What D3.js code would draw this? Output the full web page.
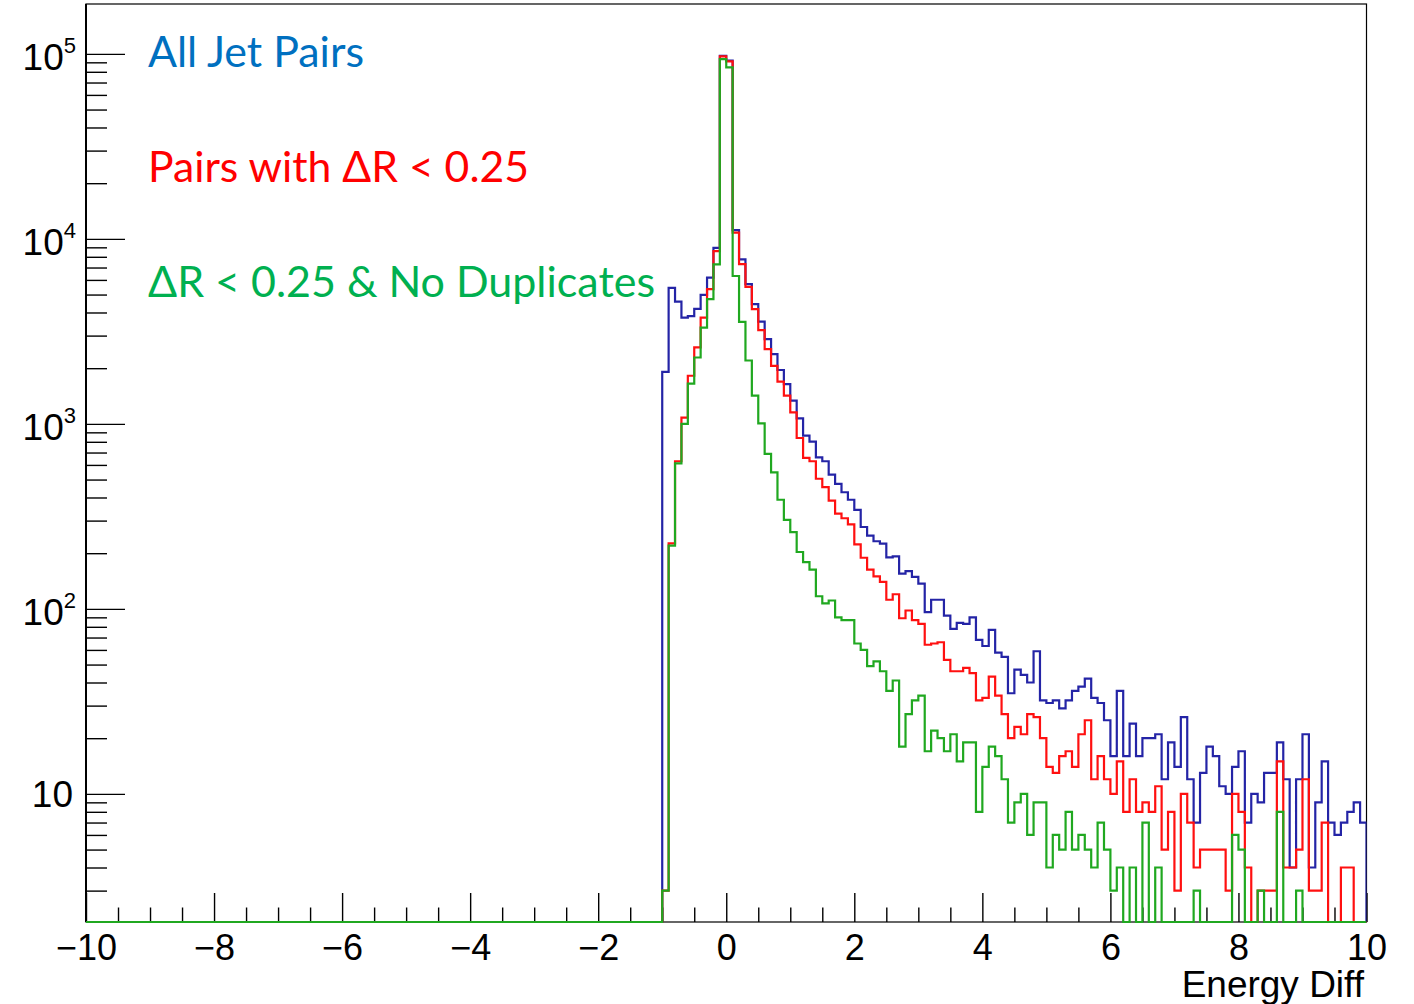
<!DOCTYPE html>
<html>
<head>
<meta charset="utf-8">
<script src="https://d3js.org/d3.v7.min.js"></script>
<style>
  html, body { margin: 0; padding: 0; background: #fff; }
  svg { display: block; }
</style>
</head>
<body>
<div id="chart"></div>
<script>
// histogram bins: width 0.1, first filled bin starts at -1.0 (everything below is empty)
var binStart = -1.0;
var binWidth = 0.1;

// All Jet Pairs
var allPairs = [
  1910, 5440, 4580, 3750, 3820, 4180, 4980, 6170, 8950, 97700,
  92000, 11140, 7740, 5690, 4440, 3570, 2870, 2380, 1955, 1640,
  1334, 1071, 863, 801, 659, 628, 532, 474, 427, 389,
  343, 277, 249, 232, 225, 190, 192, 155, 160, 149,
  137, 96, 112, 112, 92, 78, 84, 83, 90, 68,
  63, 77, 58, 55, 35, 47, 44, 40, 59, 32,
  31, 32, 29, 32, 36, 38, 42, 33, 31, 25,
  16, 36, 16, 24, 16, 20, 20, 21, 12, 19,
  14, 26, 12, 7, 13, 18, 16, 11, 10, 14,
  17, 7, 10, 9, 13, 13, 19, 12, 4, 12,
  21, 4, 9, 15, 7, 6, 7, 8, 9, 7
];
// Pairs with dR < 0.25
var pairsDR = [
  3, 226, 628, 1080, 1820, 2590, 3750, 5350, 8590, 97000,
  91000, 10800, 7310, 5500, 4170, 3210, 2535, 2060, 1690, 1420,
  1153, 839, 655, 628, 505, 455, 385, 327, 309, 286,
  223, 189, 163, 150, 140, 112, 120, 89, 98, 87,
  83, 64, 65, 66, 53, 46, 46, 48, 45, 32,
  33, 43, 34, 27, 20, 23, 21, 27, 26, 20,
  14, 13, 16, 17, 14, 21, 25, 12, 16, 12,
  10, 15, 8, 12, 8, 9, 8, 11, 5, 8,
  3, 10, 7, 4, 5, 5, 5, 5, 3, 10,
  8, 4, 0, 3, 3, 3, 15, 4, 4, 5,
  12, 3, 3, 7, 0, 0, 4, 4, 0, 0
];
// dR < 0.25 & no duplicates
var pairsNoDup = [
  3, 220, 612, 1000, 1652, 2285, 3310, 4720, 7280, 93600,
  84500, 6300, 3560, 2200, 1420, 1007, 688, 547, 389, 303,
  260, 203, 179, 163, 117, 107, 111, 90, 87, 87,
  65, 60, 49, 52, 46, 36, 41, 18, 27, 32,
  34, 17, 22, 20, 17, 21, 15, 19, 19, 8,
  14, 18, 16, 12, 7, 9, 10, 6, 9, 9,
  4, 6, 5, 8, 5, 6, 5, 4, 7, 5,
  3, 4, 0, 4, 0, 7, 0, 4, 0, 0,
  0, 0, 0, 3, 0, 0, 0, 0, 0, 6,
  5, 0, 0, 3, 0, 0, 8, 0, 0, 3,
  0, 0, 0, 0, 0, 0, 0, 0, 0, 0
];

var xMajorTicks = [-10, -8, -6, -4, -2, 0, 2, 4, 6, 8, 10];
var xMinorTicks = [-9.5, -9, -8.5, -7.5, -7, -6.5, -5.5, -5, -4.5, -3.5, -3, -2.5,
  -1.5, -1, -0.5, 0.5, 1, 1.5, 2.5, 3, 3.5, 4.5, 5, 5.5, 6.5, 7, 7.5, 8.5, 9, 9.5];
var yDecades = [10, 100, 1000, 10000, 100000];
var yExponents = ['1', '2', '3', '4', '5'];

var legendLabels = ['All Jet Pairs', 'Pairs with \u0394R < 0.25', '\u0394R < 0.25 & No Duplicates'];
var legendColors = ['#0070C0', '#FF0000', '#00B050'];
var legendWidths = [216, 381, 507];

var width = 1414;
var height = 1004;
// note: "top" is taken by window.top, so plot edges get their own names
var plotLeft = 86, plotRight = 1366.5, plotTop = 4, plotBottom = 922;
var yMin = 2.03, yMax = 1.86e5;

var svg = d3.select('#chart').append('svg')
  .attr('xmlns', 'http://www.w3.org/2000/svg')
  .attr('width', width)
  .attr('height', height);

var xScale = d3.scaleLinear().domain([-10, 10]).range([plotLeft, plotRight]);
var yScale = d3.scaleLog().domain([yMin, yMax]).range([plotBottom, plotTop]).clamp(true);

// minor y ticks 2..9 per decade
var yMinorTicks = [];
[1, 10, 100, 1000, 10000, 100000].forEach(function(d){
  for (var k = 2; k <= 9; k++){
    var v = d * k;
    if (v > yMin && v < yMax) yMinorTicks.push(v);
  }
});

svg.append('defs').append('clipPath').attr('id', 'frame')
  .append('rect')
  .attr('x', plotLeft).attr('y', plotTop)
  .attr('width', plotRight - plotLeft).attr('height', plotBottom - plotTop + 1);

// frame
svg.append('rect')
  .attr('x', plotLeft).attr('y', plotTop)
  .attr('width', plotRight - plotLeft).attr('height', plotBottom - plotTop)
  .attr('fill', 'none')
  .attr('stroke', '#000')
  .attr('stroke-width', 1.2);

/* ------------ axes ------------ */
var xMajor = d3.axisBottom(xScale).tickValues(xMajorTicks).tickSize(-29).tickPadding(12);
var xMinor = d3.axisBottom(xScale).tickValues(xMinorTicks).tickSize(-14.5).tickFormat('');

var gx = svg.append('g')
  .attr('class', 'x axis')
  .attr('transform', 'translate(0,' + plotBottom + ')')
  .call(xMajor);
svg.append('g')
  .attr('class', 'x axis minor')
  .attr('transform', 'translate(0,' + plotBottom + ')')
  .call(xMinor);

gx.selectAll('text')
  .attr('font-family', '"Liberation Sans", Arial, sans-serif')
  .attr('font-size', 36)
  .attr('fill', '#000');

var yMajor = d3.axisLeft(yScale).tickValues(yDecades).tickSize(-39).tickFormat('');
var yMinorAx = d3.axisLeft(yScale).tickValues(yMinorTicks).tickSize(-21).tickFormat('');

svg.append('g')
  .attr('class', 'y axis')
  .attr('transform', 'translate(' + plotLeft + ',0)')
  .call(yMajor);
svg.append('g')
  .attr('class', 'y axis minor')
  .attr('transform', 'translate(' + plotLeft + ',0)')
  .call(yMinorAx);

svg.selectAll('.axis path.domain').attr('stroke', 'none');
svg.selectAll('.axis line').attr('stroke', '#000').attr('stroke-width', 1.4);

// y axis line drawn heavier like the original
svg.append('line')
  .attr('x1', plotLeft).attr('x2', plotLeft)
  .attr('y1', plotTop).attr('y2', plotBottom)
  .attr('stroke', '#000')
  .attr('stroke-width', 2);

// y labels: 10, 10^2 ... 10^5
var ylab = svg.append('g').attr('class', 'ylabels')
  .attr('font-family', '"Liberation Sans", Arial, sans-serif')
  .attr('fill', '#000');

yDecades.forEach(function(v, i){
  var t = ylab.append('text')
    .attr('text-anchor', 'end')
    .attr('font-size', 37);
  if (i === 0){
    t.attr('x', 73).attr('y', yScale(v) + 13.5).text('10');
  } else {
    t.attr('x', 76).attr('y', yScale(v) + 16);
    t.append('tspan').text('10');
    t.append('tspan').attr('font-size', 22).attr('dy', -17).text(yExponents[i]);
  }
});

// x title
svg.append('text')
  .attr('x', 1364)
  .attr('y', 997)
  .attr('text-anchor', 'end')
  .attr('font-family', '"Liberation Sans", Arial, sans-serif')
  .attr('font-size', 37)
  .attr('fill', '#000')
  .text('Energy Diff');

/* ------------ histograms ------------ */
function stepPath(values){
  var p = d3.path();
  var yb = yScale(yMin);
  p.moveTo(xScale(-10), yb);
  p.lineTo(xScale(binStart), yb);
  values.forEach(function(v, i){
    var yy = yScale(Math.max(v, yMin));
    p.lineTo(xScale(binStart + i * binWidth), yy);
    p.lineTo(xScale(binStart + (i + 1) * binWidth), yy);
  });
  p.lineTo(xScale(binStart + values.length * binWidth), yb);
  return p.toString();
}

var hists = svg.append('g').attr('class', 'lines').attr('clip-path', 'url(#frame)');

var series = [
  { name: 'all', values: allPairs, color: '#2424a6' },
  { name: 'dr', values: pairsDR, color: '#ff1010' },
  { name: 'nodup', values: pairsNoDup, color: '#20a820' }
];

hists.selectAll('.hist')
  .data(series).enter()
  .append('path')
  .attr('class', 'hist')
  .attr('d', function(d){ return stepPath(d.values); })
  .style('fill', 'none')
  .style('stroke', function(d){ return d.color; })
  .style('stroke-width', 2.2)
  .style('stroke-linejoin', 'miter');

/* ------------ text labels (legend) ------------ */
var legendY = [67, 182, 297];
svg.append('g').attr('class', 'legend')
  .selectAll('text')
  .data(legendLabels).enter()
  .append('text')
  .attr('x', 148)
  .attr('y', function(d, i){ return legendY[i]; })
  .attr('font-family', 'Lato, "Open Sans", sans-serif')
  .attr('font-size', 42)
  .attr('fill', function(d, i){ return legendColors[i]; })
  .attr('textLength', function(d, i){ return legendWidths[i]; })
  .attr('lengthAdjust', 'spacingAndGlyphs')
  .text(function(d){ return d; });
</script>
</body>
</html>
